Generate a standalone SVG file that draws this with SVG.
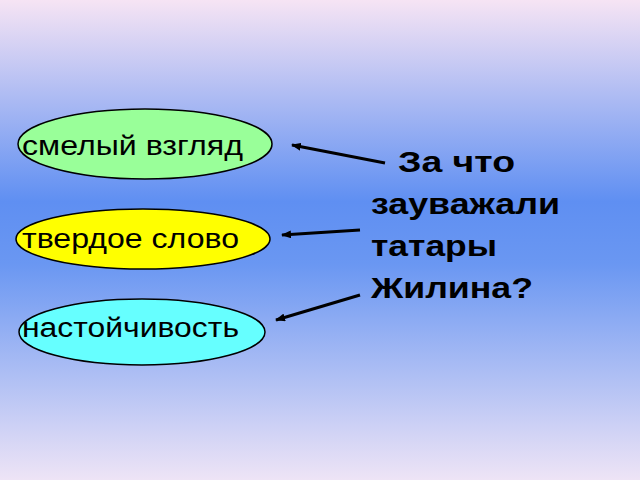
<svg xmlns="http://www.w3.org/2000/svg" width="640" height="480" viewBox="0 0 640 480">
<defs>
<linearGradient id="bg" x1="0" y1="0" x2="0" y2="1">
<stop offset="0" stop-color="#f6e4f4"/>
<stop offset="0.42" stop-color="#5f8ff2"/>
<stop offset="0.55" stop-color="#6a97f2"/>
<stop offset="1" stop-color="#eee4f6"/>
</linearGradient>
<marker id="ah" markerWidth="10" markerHeight="8" refX="9" refY="4" orient="auto" markerUnits="userSpaceOnUse">
<path d="M0,0 L10,4 L0,8 z" fill="#000"/>
</marker>
<style>
.n{stroke:#000;stroke-width:1.5}
.t{font-family:"Liberation Sans",Arial,sans-serif;font-size:27px;fill:#000}
.q{font-family:"Liberation Sans",Arial,sans-serif;font-size:30px;font-weight:bold;fill:#000}
.c{stroke:#000;stroke-width:3;fill:none;marker-end:url(#ah)}
</style>
</defs>
<rect width="640" height="480" fill="url(#bg)"/>
<g id="n1"><ellipse class="n" cx="145" cy="144" rx="127" ry="35" fill="#99ff99"/><text class="t" x="22" y="155" textLength="221" lengthAdjust="spacingAndGlyphs">смелый взгляд</text></g>
<g id="n2"><ellipse class="n" cx="143" cy="239" rx="127" ry="30" fill="#ffff00"/><text class="t" x="22" y="248" textLength="217" lengthAdjust="spacingAndGlyphs">твердое слово</text></g>
<g id="n3"><ellipse class="n" cx="142" cy="332" rx="123" ry="33" fill="#66ffff"/><text class="t" x="22" y="337" textLength="217" lengthAdjust="spacingAndGlyphs">настойчивость</text></g>
<g id="q">
<text class="q" x="398" y="172" textLength="117" lengthAdjust="spacingAndGlyphs">За что</text>
<text class="q" x="371" y="214" textLength="189" lengthAdjust="spacingAndGlyphs">зауважали</text>
<text class="q" x="371" y="256" textLength="126" lengthAdjust="spacingAndGlyphs">татары</text>
<text class="q" x="371" y="298" textLength="162" lengthAdjust="spacingAndGlyphs">Жилина?</text>
</g>
<g id="connectors">
<line class="c" x1="385" y1="163" x2="292" y2="145"/>
<line class="c" x1="360" y1="230" x2="282" y2="235"/>
<line class="c" x1="360" y1="295" x2="276" y2="320"/>
</g>
</svg>
